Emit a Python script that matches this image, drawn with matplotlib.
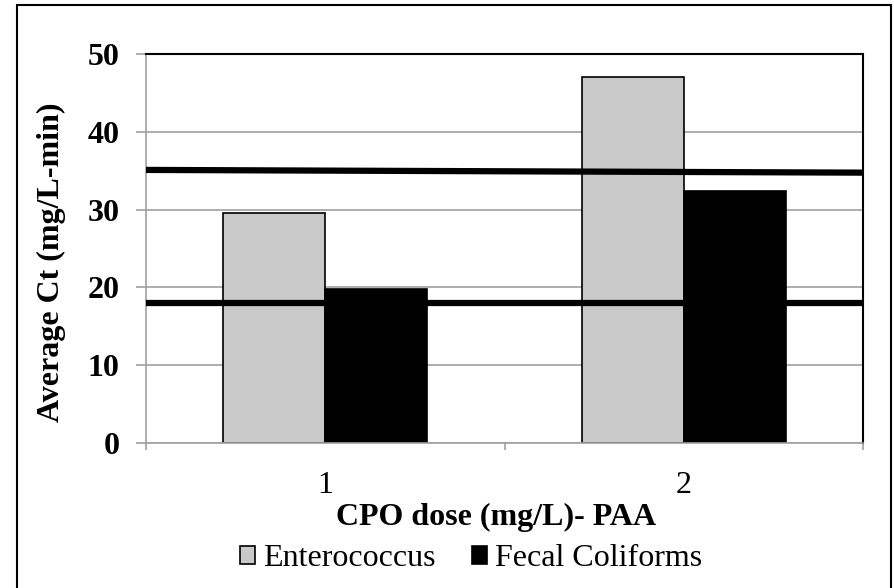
import numpy as np
import matplotlib.pyplot as plt
from matplotlib.patches import Rectangle

plt.rcParams['font.family'] = ['Liberation Serif', 'DejaVu Serif']

doses = ['1', '2']
enterococcus = [29.6, 47.0]
fecal_coliforms = [19.8, 32.4]
# reference lines, value at left and right end of the plot area
upper_line = [35.1, 34.75]
lower_line = [18.0, 18.0]


def main():
    fig = plt.figure(figsize=(8.94, 5.88), dpi=100)
    ax = fig.add_axes([146 / 894, 145 / 588, 717 / 894, 389 / 588])

    x = np.arange(len(doses))
    width = 0.285
    ax.bar(x - width / 2, enterococcus, width, color='#c9c9c9', edgecolor='black',
           linewidth=1.2, label='Enterococcus', zorder=2)
    ax.bar(x + width / 2, fecal_coliforms, width, color='black', edgecolor='black',
           linewidth=1.2, label='Fecal Coliforms', zorder=2)

    ends = [-0.5, len(doses) - 0.5]
    ax.plot(ends, upper_line, color='black', linewidth=4.5, zorder=3,
            solid_capstyle='butt')
    ax.plot(ends, lower_line, color='black', linewidth=4.5, zorder=3,
            solid_capstyle='butt')

    ax.set_xlim(ends)
    ax.set_ylim(0, 50)
    ax.set_yticks(range(0, 51, 10))
    ax.yaxis.grid(True, color='#a0a0a0', linewidth=1.2, zorder=0)
    ax.set_axisbelow(True)

    # category labels sit between the boundary ticks
    ax.set_xticks([-0.5, 0.5, 1.5])
    ax.set_xticklabels([])
    ax.set_xticks(x, minor=True)
    ax.set_xticklabels(doses, minor=True, fontsize=23)
    ax.tick_params(axis='x', which='minor', length=0, pad=20)
    ax.tick_params(axis='x', which='major', length=5, color='#a0a0a0', width=1.2)
    ax.tick_params(axis='y', length=7.2, color='#a0a0a0', width=1.2, pad=12)
    for lbl in ax.get_yticklabels():
        lbl.set_fontsize(23)
        lbl.set_fontweight('bold')

    for side in ['left', 'bottom']:
        ax.spines[side].set_color('#a0a0a0')
        ax.spines[side].set_linewidth(1.2)
    for side in ['top', 'right']:
        ax.spines[side].set_color('black')
        ax.spines[side].set_linewidth(1.5)

    fig.text(51 / 894, 1 - 262 / 588, 'Average Ct (mg/L-min)', rotation=90,
             ha='center', va='center', fontsize=23, fontweight='bold')
    fig.text(496 / 894, 1 - 525 / 588, 'CPO dose (mg/L)- PAA', ha='center',
             va='baseline', fontsize=23, fontweight='bold')

    fig.legend(loc='center', bbox_to_anchor=(471 / 894, 1 - 559 / 588), ncol=2,
               frameon=False, fontsize=23, handlelength=0.47, handleheight=0.47,
               handletextpad=0.25, columnspacing=1.15)

    # chart frame, open at the bottom edge of the image
    fig.patches.append(Rectangle((17 / 894, -0.02), 874 / 894, 1.0115,
                                 transform=fig.transFigure, fill=False,
                                 edgecolor='black', linewidth=1.5))

    fig.savefig('out.png', dpi=100)


if __name__ == '__main__':
    main()
